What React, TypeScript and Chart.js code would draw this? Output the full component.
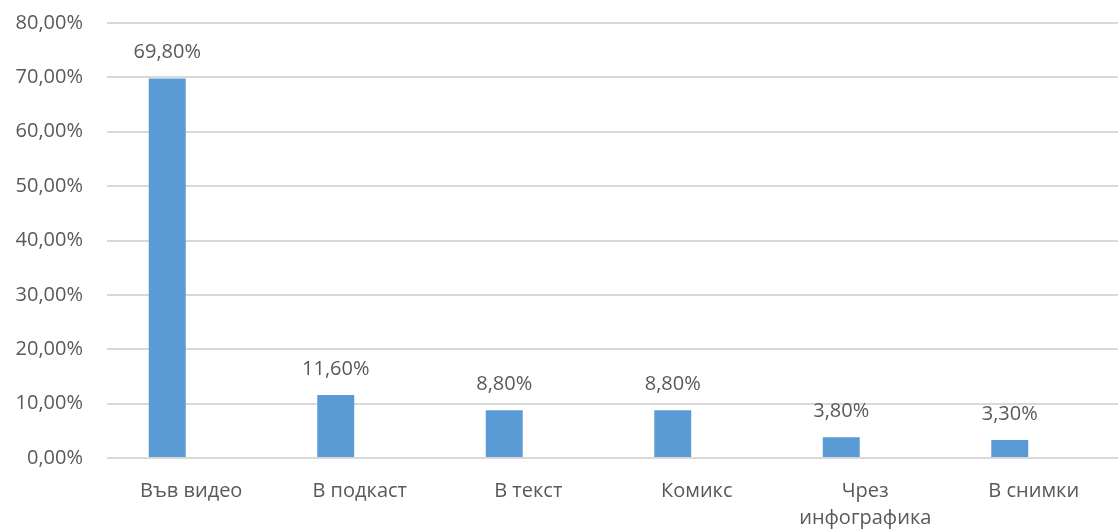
import React, { useEffect, useRef } from "react";
import { Chart, registerables } from "chart.js";

Chart.register(...registerables);

const categories: (string | string[])[] = ["Във видео", "В подкаст", "В текст", "Комикс", ["Чрез", "инфографика"], "В снимки"];
const values = [69.8, 11.6, 8.8, 8.8, 3.8, 3.3];
const emptySeries = [null, null, null, null, null, null];
const yTicks = [0, 10, 20, 30, 40, 50, 60, 70, 80];

const FONT = "'Open Sans', sans-serif";
const TEXT = "#595959";

const fmt = (v: number) => v.toFixed(2).replace(".", ",") + "%";

const labelPlugin = {
  id: "barLabels",
  afterDatasetsDraw(chart: any) {
    const ctx = chart.ctx;
    const meta = chart.getDatasetMeta(0);
    ctx.save();
    ctx.font = `20px ${FONT}`;
    ctx.fillStyle = TEXT;
    ctx.textAlign = "center";
    ctx.textBaseline = "middle";
    meta.data.forEach((bar: any, i: number) => {
      ctx.fillText(fmt(values[i]), bar.x, bar.y - 26);
    });
    ctx.restore();
  },
};

export default function App() {
  const ref = useRef<HTMLCanvasElement>(null);
  useEffect(() => {
    if (!ref.current) return;
    const chart = new Chart(ref.current, {
      type: "bar",
      data: {
        labels: categories,
        datasets: [
          {
            data: values,
            backgroundColor: "#5B9BD5",
            categoryPercentage: 0.57,
            barPercentage: 0.77,
          },
          {
            data: emptySeries as any,
            backgroundColor: "rgba(0,0,0,0)",
            categoryPercentage: 0.57,
            barPercentage: 0.77,
          },
        ],
      },
      options: {
        animation: false,
        responsive: false,
        layout: { padding: { top: 23, right: 1, left: 0, bottom: 0 } },
        plugins: { legend: { display: false }, tooltip: { enabled: false } },
        scales: {
          x: {
            grid: { display: false, drawTicks: false },
            border: { display: false },
            ticks: {
              color: TEXT,
              font: { family: FONT, size: 20, lineHeight: 1.35 },
              padding: 20,
              maxRotation: 0,
              autoSkip: false,
            },
            afterFit(scale: any) {
              scale.height = 73;
              scale.paddingLeft = 0;
              scale.paddingRight = 0;
            },
          },
          y: {
            min: 0,
            max: 80,
            afterBuildTicks(scale: any) {
              scale.ticks = yTicks.map((v) => ({ value: v }));
            },
            grid: { color: "#D9D9D9", lineWidth: 2, drawTicks: false },
            border: { display: false },
            ticks: {
              color: TEXT,
              font: { family: FONT, size: 20 },
              padding: 24,
              callback: (v: any) => fmt(Number(v)),
            },
            afterFit(scale: any) {
              scale.width = 107;
              scale.paddingTop = 0;
              scale.paddingBottom = 0;
            },
          },
        },
      },
      plugins: [labelPlugin],
    });
    return () => chart.destroy();
  }, []);
  return (
    <div style={{ position: "fixed", left: 0, top: 0, width: 1119, height: 531, background: "#fff" }}>
      <canvas ref={ref} width={1119} height={531} style={{ width: 1119, height: 531 }} />
    </div>
  );
}
